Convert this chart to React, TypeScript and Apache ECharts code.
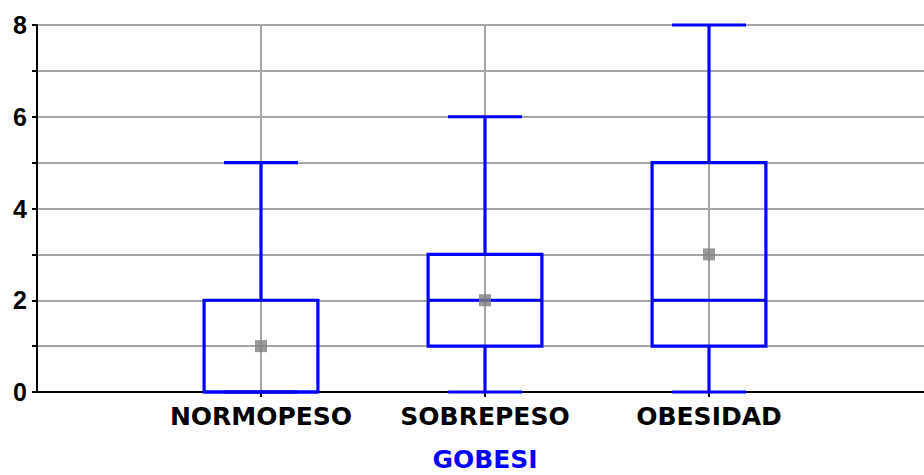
import React, { useEffect, useRef } from 'react';
import * as echarts from 'echarts';

const categories = ['NORMOPESO', 'SOBREPESO', 'OBESIDAD'];
const minValues = [0, 0, 0];
const q1Values = [0, 1, 1];
const medianValues = [0, 2, 2];
const q3Values = [2, 3, 5];
const maxValues = [5, 6, 8];
const meanValues = [1, 2, 3];
const yTickLabels = ['0', '2', '4', '6', '8'];
const axisTitle = 'GOBESI';

export default function App() {
  const ref = useRef<HTMLDivElement>(null);

  useEffect(() => {
    if (!ref.current) return;
    const chart = echarts.init(ref.current, undefined, { renderer: 'svg' });
    const axisCats = ['', ...categories, ''];
    const boxData = categories.map((_, i) => [
      i + 1,
      minValues[i],
      q1Values[i],
      medianValues[i],
      q3Values[i],
      maxValues[i],
    ]);
    const meanData = categories.map((_, i) => [i + 1, meanValues[i]]);
    const blue = '#0000ff';
    const grid = '#a6a6a6';

    chart.setOption({
      animation: false,
      backgroundColor: '#ffffff',
      grid: {
        left: 37,
        top: 25,
        width: 896,
        height: 367,
        containLabel: false,
        outerBoundsMode: 'none',
      },
      xAxis: {
        type: 'category',
        data: axisCats,
        boundaryGap: false,
        name: axisTitle,
        nameLocation: 'middle',
        nameGap: 54,
        nameTextStyle: {
          color: blue,
          fontFamily: 'DejaVu Sans',
          fontWeight: 'bold',
          fontSize: 25,
          lineHeight: 26,
        },
        axisLine: { lineStyle: { color: '#000', width: 2 } },
        axisTick: {
          show: true,
          length: 5,
          interval: (_i: number, v: string) => v !== '',
          lineStyle: { color: '#000', width: 2 },
        },
        axisLabel: {
          interval: 0,
          margin: 12,
          color: '#000',
          fontFamily: 'DejaVu Sans',
          fontWeight: 'bold',
          fontSize: 25,
        },
        splitLine: {
          show: true,
          interval: (_i: number, v: string) => v !== '',
          lineStyle: { color: grid, width: 2 },
        },
      },
      yAxis: {
        type: 'value',
        min: 0,
        max: 8,
        interval: 1,
        axisLine: { show: true, lineStyle: { color: '#000', width: 2 } },
        axisTick: { show: true, length: 5, lineStyle: { color: '#000', width: 2 } },
        axisLabel: {
          margin: 10,
          color: '#000',
          fontFamily: 'Liberation Sans',
          fontWeight: 'bold',
          fontSize: 25,
          formatter: (v: number) => (yTickLabels.includes(String(v)) ? String(v) : ''),
        },
        splitLine: { show: true, lineStyle: { color: grid, width: 2 } },
      },
      series: [
        {
          type: 'custom',
          data: boxData,
          z: 3,
          renderItem: (_params: any, api: any) => {
            const x = api.value(0);
            const pMin = api.coord([x, api.value(1)]);
            const pQ1 = api.coord([x, api.value(2)]);
            const pMed = api.coord([x, api.value(3)]);
            const pQ3 = api.coord([x, api.value(4)]);
            const pMax = api.coord([x, api.value(5)]);
            const band = api.size([1, 0])[0];
            const boxW = band * 0.508;
            const capW = band * 0.33;
            const cx = pMin[0];
            const st = { stroke: blue, lineWidth: 3.2, fill: 'none' };
            return {
              type: 'group',
              children: [
                { type: 'line', shape: { x1: cx, y1: pQ1[1], x2: cx, y2: pMin[1] }, style: st },
                { type: 'line', shape: { x1: cx, y1: pQ3[1], x2: cx, y2: pMax[1] }, style: st },
                { type: 'line', shape: { x1: cx - capW / 2, y1: pMin[1], x2: cx + capW / 2, y2: pMin[1] }, style: st },
                { type: 'line', shape: { x1: cx - capW / 2, y1: pMax[1], x2: cx + capW / 2, y2: pMax[1] }, style: st },
                {
                  type: 'rect',
                  shape: { x: cx - boxW / 2, y: pQ3[1], width: boxW, height: pQ1[1] - pQ3[1] },
                  style: st,
                },
                { type: 'line', shape: { x1: cx - boxW / 2, y1: pMed[1], x2: cx + boxW / 2, y2: pMed[1] }, style: st },
              ],
            };
          },
        },
        {
          type: 'scatter',
          data: meanData,
          symbol: 'rect',
          symbolSize: 12,
          z: 4,
          itemStyle: { color: '#808080' },
        },
      ],
    });
    return () => chart.dispose();
  }, []);

  return (
    <div
      style={{
        position: 'absolute',
        left: 0,
        top: 0,
        width: 924,
        height: 475,
        overflow: 'hidden',
      }}
    >
      <div ref={ref} style={{ width: 945, height: 475 }} />
    </div>
  );
}
